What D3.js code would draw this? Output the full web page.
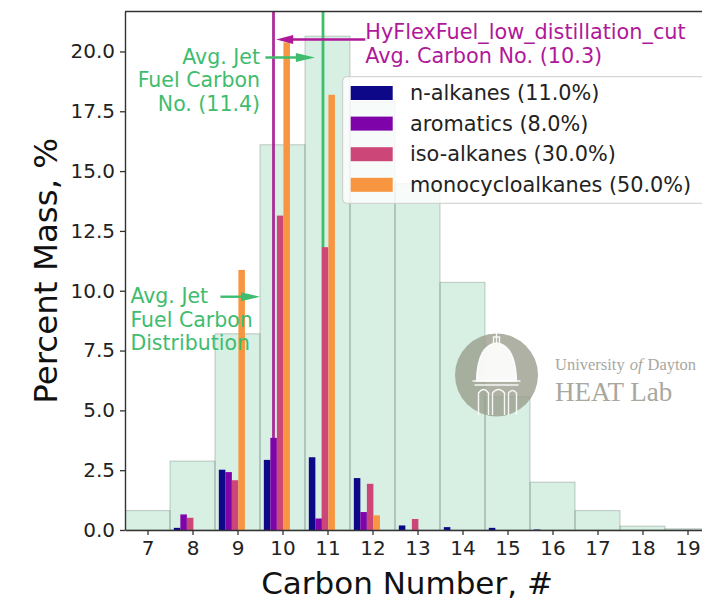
<!DOCTYPE html>
<html>
<head>
<meta charset="utf-8">
<script src="https://cdn.jsdelivr.net/npm/d3@7"></script>
<style>
  html, body { margin: 0; padding: 0; background: #fff; }
  svg { display: block; font-family: "DejaVu Sans", sans-serif; }
</style>
</head>
<body>
<svg id="chart" width="702" height="602"></svg>
<script>
// ---------------- DATA ----------------
const carbonNumbers = [7, 8, 9, 10, 11, 12, 13, 14, 15, 16, 17, 18, 19];
// Avg. Jet Fuel carbon distribution (percent mass per carbon number)
const jetFuelDistribution = [0.81, 2.88, 8.2, 16.1, 20.64, 17.9, 14.47, 10.35, 5.57, 2.0, 0.81, 0.16, 0.05];

const seriesNames = ["n-alkanes (11.0%)", "aromatics (8.0%)", "iso-alkanes (30.0%)", "monocycloalkanes (50.0%)"];
const seriesColors = ["#0d0887", "#7e03a8", "#cc4778", "#f89540"];
const nAlkanes      = [0, 0.09, 2.52, 2.93, 3.04, 2.17, 0.19, 0.12, 0.09, 0.02, 0, 0, 0];
const aromatics     = [0, 0.65, 2.42, 3.85, 0.48, 0.75, 0, 0, 0, 0, 0, 0, 0];
const isoAlkanes    = [0, 0.51, 2.08, 13.14, 11.82, 1.93, 0.46, 0, 0, 0, 0, 0, 0];
const monocyclo     = [0, 0, 10.87, 20.38, 18.19, 0.61, 0, 0, 0, 0, 0, 0, 0];
const seriesValues = [nAlkanes, aromatics, isoAlkanes, monocyclo];

const yTicks = [0, 2.5, 5, 7.5, 10, 12.5, 15, 17.5, 20];
const fuelAvgCarbon = 10.3;      // HyFlexFuel_low_distillation_cut
const jetAvgCarbon = 11.4;       // Avg. Jet Fuel

// ---------------- LAYOUT ----------------
const svg = d3.select("#chart");
const pL = 125, pR = 710, pT = 11.5, pB = 530;
const x = d3.scaleLinear().domain([7, 20]).range([pL, pR]);
const y = d3.scaleLinear().domain([0, 21.67]).range([pB, pT]);

const green = "#3cb371";
const greenText = "#3fbc6e";
const magenta = "#b0189a";

svg.append("defs").append("clipPath").attr("id", "plot")
  .append("rect").attr("x", pL).attr("y", pT).attr("width", pR - pL).attr("height", pB - pT);

const plot = svg.append("g").attr("clip-path", "url(#plot)");

// Jet fuel distribution (histogram-like bins)
plot.selectAll("rect.bin").data(carbonNumbers).join("rect")
  .attr("class", "bin")
  .attr("x", c => x(c))
  .attr("width", c => x(c + 1) - x(c))
  .attr("y", (c, i) => y(jetFuelDistribution[i]))
  .attr("height", (c, i) => y(0) - y(jetFuelDistribution[i]))
  .attr("fill", green).attr("fill-opacity", 0.2)
  .attr("stroke", "#4a5a50").attr("stroke-opacity", 0.3).attr("stroke-width", 1);

// Vertical average lines
plot.append("line")
  .attr("x1", x(fuelAvgCarbon)).attr("x2", x(fuelAvgCarbon))
  .attr("y1", y(0)).attr("y2", pT)
  .attr("stroke", "#a3168e").attr("stroke-width", 2.8).attr("stroke-opacity", 0.9);
plot.append("line")
  .attr("x1", x(jetAvgCarbon)).attr("x2", x(jetAvgCarbon))
  .attr("y1", y(0)).attr("y2", pT)
  .attr("stroke", "#3fbe6c").attr("stroke-width", 2.8);

// Component bars
const barW = 0.145, barOff = 0.085;
seriesValues.forEach((vals, s) => {
  plot.selectAll("rect.s" + s).data(carbonNumbers).join("rect")
    .attr("class", "s" + s)
    .attr("x", c => x(c + barOff + s * barW))
    .attr("width", x(barW) - x(0))
    .attr("y", (c, i) => y(vals[i]))
    .attr("height", (c, i) => y(0) - y(vals[i]))
    .attr("fill", seriesColors[s]);
});

// ---------------- LOGO (watermark) ----------------
const logo = svg.append("g");
const lcx = 496.5, lcy = 375, lr = 41.5;
logo.append("circle").attr("cx", lcx).attr("cy", lcy).attr("r", lr)
  .attr("fill", "#9a9d8c").attr("fill-opacity", 0.8);
const dome = logo.append("g").attr("fill", "none").attr("stroke", "#fff").attr("stroke-width", 1.4).attr("stroke-opacity", 0.9);
dome.append("path").attr("d", `M${lcx-20},${lcy+6} Q${lcx-19},${lcy-30} ${lcx},${lcy-32} Q${lcx+19},${lcy-30} ${lcx+20},${lcy+6} Z`).attr("fill", "#fff").attr("fill-opacity", 0.92);
dome.append("path").attr("d", `M${lcx-24},${lcy+6} L${lcx+24},${lcy+6} M${lcx-22},${lcy+10} L${lcx+22},${lcy+10}`);
dome.append("path").attr("d", `M${lcx-18},${lcy+40} L${lcx-18},${lcy+18} Q${lcx-13},${lcy+11} ${lcx-8},${lcy+18} L${lcx-8},${lcy+40} M${lcx-4},${lcy+40} L${lcx-4},${lcy+18} Q${lcx+2},${lcy+11} ${lcx+8},${lcy+18} L${lcx+8},${lcy+40} M${lcx+12},${lcy+40} L${lcx+12},${lcy+18} Q${lcx+16},${lcy+13} ${lcx+20},${lcy+18} L${lcx+20},${lcy+40}`);
dome.append("path").attr("d", `M${lcx},${lcy-32} L${lcx},${lcy-52} M${lcx-6},${lcy-46} L${lcx+6},${lcy-46} M${lcx-3},${lcy-32} L${lcx-3},${lcy-38} L${lcx+3},${lcy-38} L${lcx+3},${lcy-32}`);

const serif = "'Liberation Serif', 'DejaVu Serif', serif";
const logoColor = "#a8a89e";
let ux = 555;
[["University", "normal"], ["of", "italic"], ["Dayton", "normal"]].forEach(([word, style]) => {
  const t = logo.append("text").attr("x", ux).attr("y", 370)
    .attr("font-family", serif).attr("font-size", 16.5).attr("font-style", style)
    .attr("fill", logoColor).text(word);
  ux += t.node().getComputedTextLength() + 5;
});
logo.append("text").attr("x", 555).attr("y", 401)
  .attr("font-family", serif).attr("font-size", 27)
  .attr("fill", logoColor).text("HEAT Lab");

// ---------------- AXES ----------------
const axisColor = "#333";
const xAxis = d3.axisBottom(x)
  .tickValues(carbonNumbers.map(c => c + 0.5))
  .tickFormat(d => String(Math.round(d - 0.5)))
  .tickSize(5).tickPadding(6).tickSizeOuter(0);
const gx = svg.append("g").attr("transform", `translate(0,${pB})`).call(xAxis);
gx.select(".domain").attr("stroke", axisColor).attr("stroke-width", 1.4);
gx.selectAll(".tick line").attr("stroke", axisColor).attr("stroke-width", 1.3);
gx.selectAll(".tick text").attr("font-size", 20).attr("fill", "#222").attr("font-family", "DejaVu Sans");

const yAxis = d3.axisLeft(y).tickValues(yTicks).tickFormat(d3.format(".1f"))
  .tickSize(5).tickPadding(5).tickSizeOuter(0);
const gy = svg.append("g").attr("transform", `translate(${pL},0)`).call(yAxis);
gy.select(".domain").attr("stroke", axisColor).attr("stroke-width", 1.4);
gy.selectAll(".tick line").attr("stroke", axisColor).attr("stroke-width", 1.3);
gy.selectAll(".tick text").attr("font-size", 20).attr("fill", "#222").attr("font-family", "DejaVu Sans");

// top spine
svg.append("line").attr("x1", pL).attr("x2", pR).attr("y1", pT).attr("y2", pT)
  .attr("stroke", axisColor).attr("stroke-width", 1.4);

svg.append("text").attr("x", 407).attr("y", 594).attr("text-anchor", "middle")
  .attr("font-size", 31).attr("fill", "#111").text("Carbon Number, #");
svg.append("text").attr("transform", `translate(57,${(pT + pB) / 2}) rotate(-90)`)
  .attr("text-anchor", "middle").attr("font-size", 32.5).attr("fill", "#111").text("Percent Mass, %");

// ---------------- LEGEND ----------------
const lg = svg.append("g");
lg.append("rect").attr("x", 342.7).attr("y", 76.7).attr("width", 400).attr("height", 126.6)
  .attr("rx", 4).attr("fill", "#fff").attr("fill-opacity", 0.8)
  .attr("stroke", "#ccc").attr("stroke-width", 1);
seriesNames.forEach((name, i) => {
  const cy = 93 + i * 30.6;
  lg.append("rect").attr("x", 350.7).attr("y", cy - 7).attr("width", 42).attr("height", 14)
    .attr("fill", seriesColors[i]);
  lg.append("text").attr("x", 410).attr("y", cy).attr("dy", "0.35em")
    .attr("font-size", 20.8).attr("fill", "#222").text(name);
});

// ---------------- ANNOTATIONS ----------------
function arrow(x1, x2, yv, color, headLen, headHalf, width) {
  const y0 = y(yv);
  const dir = Math.sign(x(x2) - x(x1));
  svg.append("line").attr("x1", x(x1)).attr("x2", x(x2) - dir * headLen * 0.6)
    .attr("y1", y0).attr("y2", y0).attr("stroke", color).attr("stroke-width", width);
  const tip = x(x2);
  svg.append("path")
    .attr("d", `M${tip},${y0} L${tip - dir * headLen},${y0 - headHalf} L${tip - dir * headLen},${y0 + headHalf} Z`)
    .attr("fill", color);
}

// magenta annotation
arrow(12.34, 10.36, 20.5, magenta, 17, 4.5, 2.4);
const mt = svg.append("text").attr("x", x(12.34)).attr("y", y(20.5))
  .attr("font-size", 20.8).attr("fill", magenta);
mt.append("tspan").attr("x", x(12.34)).text("HyFlexFuel_low_distillation_cut");
mt.append("tspan").attr("x", x(12.34)).attr("dy", 24).text("Avg. Carbon No. (10.3)");

// green annotation (avg carbon no.)
arrow(10.12, 11.22, 19.75, greenText, 19, 4.5, 2.4);
const g1 = svg.append("text").attr("text-anchor", "end").attr("y", y(19.48))
  .attr("font-size", 20.5).attr("fill", greenText);
["Avg. Jet", "Fuel Carbon", "No. (11.4)"].forEach((t, i) =>
  g1.append("tspan").attr("x", x(10.0)).attr("dy", i === 0 ? 0 : 23.4).text(t));

// green annotation (distribution)
arrow(9.12, 10.0, 9.75, greenText, 19, 4.5, 2.4);
const g2 = svg.append("text").attr("y", y(9.48))
  .attr("font-size", 20.5).attr("fill", greenText);
["Avg. Jet", "Fuel Carbon", "Distribution"].forEach((t, i) =>
  g2.append("tspan").attr("x", x(7.12)).attr("dy", i === 0 ? 0 : 23.4).text(t));
</script>
</body>
</html>
